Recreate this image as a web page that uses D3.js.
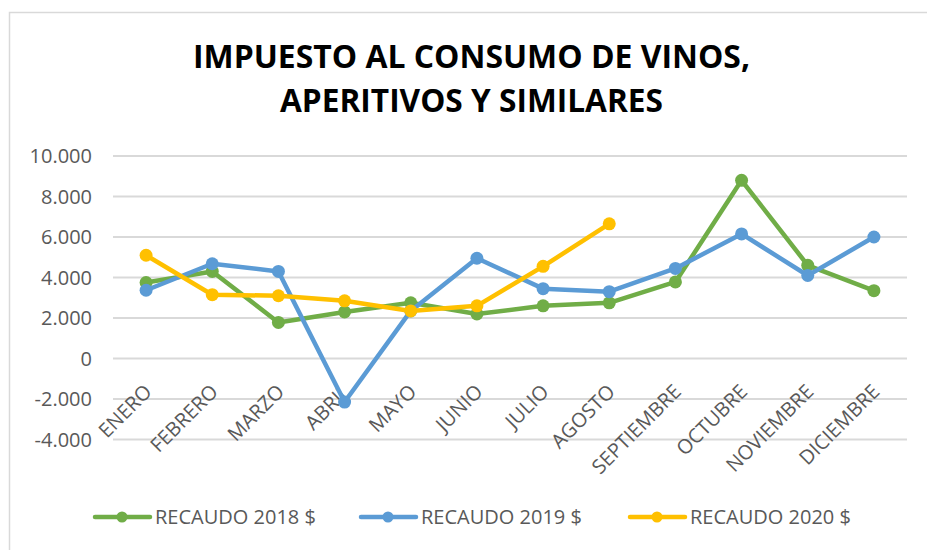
<!DOCTYPE html>
<html><head><meta charset="utf-8">
<script src="https://cdn.jsdelivr.net/npm/d3@7"></script>
<style>
html,body{margin:0;padding:0;background:#fff;}
svg{display:block;}
text{font-family:"Open Sans","Liberation Sans",sans-serif;}
</style></head>
<body>
<svg id="chart" width="927" height="550"></svg>
<script>
const months = ["ENERO","FEBRERO","MARZO","ABRIL","MAYO","JUNIO","JULIO","AGOSTO","SEPTIEMBRE","OCTUBRE","NOVIEMBRE","DICIEMBRE"];
const recaudo2018 = [3750, 4300, 1780, 2300, 2750, 2200, 2600, 2750, 3780, 8800, 4600, 3350];
const recaudo2019 = [3370, 4680, 4300, -2150, 2350, 4950, 3450, 3300, 4450, 6150, 4100, 6000];
const recaudo2020 = [5100, 3150, 3100, 2850, 2350, 2600, 4550, 6650];
const seriesNames = ["RECAUDO 2018 $","RECAUDO 2019 $","RECAUDO 2020 $"];
const seriesColors = ["#70AD47","#5B9BD5","#FFC000"];
const yTicks = [-4000,-2000,0,2000,4000,6000,8000,10000];
const titleLines = ["IMPUESTO AL CONSUMO DE VINOS,","APERITIVOS Y SIMILARES"];

const svg = d3.select("#chart");
const fmt = d3.formatLocale({decimal:",",thousands:".",grouping:[3],currency:["$",""],minus:"-"}).format(",");

// chart border
svg.append("rect").attr("x",9.5).attr("y",12.5).attr("width",1000).attr("height",600)
  .attr("fill","none").attr("stroke","#d9d9d9").attr("stroke-width",1.5);

// title
const titleW = [557, 383];
titleLines.forEach((t,i)=>{
  svg.append("text").attr("x",471.5).attr("y",[68,112][i]).attr("text-anchor","middle")
    .attr("font-size",33).attr("font-weight","bold").attr("fill","#000")
    .attr("textLength",titleW[i]).attr("lengthAdjust","spacingAndGlyphs").text(t);
});

const x = d3.scalePoint().domain(months).range([113,907]).padding(0.5);
const y = d3.scaleLinear().domain([-4000,10000]).range([439.5,156]);

// gridlines
svg.append("g").selectAll("line").data(yTicks).join("line")
  .attr("x1",113).attr("x2",907).attr("y1",d=>y(d)).attr("y2",d=>y(d))
  .attr("stroke","#d9d9d9").attr("stroke-width",2);

// y labels
svg.append("g").selectAll("text").data(yTicks).join("text")
  .attr("x",92).attr("y",d=>y(d)+7).attr("text-anchor","end")
  .attr("font-size",20).attr("fill","#595959").text(d=>fmt(d));

// x labels
svg.append("g").selectAll("text").data(months).join("text")
  .attr("transform",d=>`translate(${x(d)+7},393) rotate(-45)`)
  .attr("text-anchor","end").attr("font-size",20).attr("fill","#595959").text(d=>d);

// series
const allSeries = [recaudo2018, recaudo2019, recaudo2020];
const line = d3.line().x((d,i)=>x(months[i])).y(d=>y(d));
allSeries.forEach((vals,k)=>{
  const g = svg.append("g");
  g.append("path").datum(vals).attr("d",line).attr("fill","none")
    .attr("stroke",seriesColors[k]).attr("stroke-width",4.5).attr("stroke-linejoin","round");
  g.selectAll("circle").data(vals).join("circle")
    .attr("cx",(d,i)=>x(months[i])).attr("cy",d=>y(d)).attr("r",6.5).attr("fill",seriesColors[k]);
});

// legend
const legX = [95, 361, 630];
seriesNames.forEach((n,k)=>{
  const g = svg.append("g");
  g.append("line").attr("x1",legX[k]).attr("x2",legX[k]+55).attr("y1",517).attr("y2",517)
    .attr("stroke",seriesColors[k]).attr("stroke-width",4.5).attr("stroke-linecap","round");
  g.append("circle").attr("cx",legX[k]+27).attr("cy",517).attr("r",5.5).attr("fill",seriesColors[k]);
  g.append("text").attr("x",legX[k]+60).attr("y",524).attr("font-size",20).attr("fill","#595959").text(n);
});
</script>
</body></html>
